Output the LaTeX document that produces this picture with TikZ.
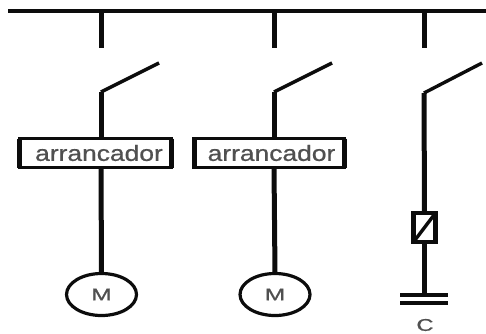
\documentclass[tikz,border=0pt]{standalone}
\usepackage{fontspec}
\setmainfont[RawFeature={embolden=0.7}]{Liberation Sans}
\usetikzlibrary{shapes.geometric}
\definecolor{ink}{HTML}{0C0C0C}
\definecolor{txt}{HTML}{505050}
\tikzset{
  x=1pt,y=-1pt,
  wire/.style={draw=ink,line width=5pt},
  thin wire/.style={draw=ink,line width=3.4pt},
  bus/.style={draw=ink,line width=3.6pt},
  starter/.style={draw=ink,line width=3.4pt,minimum height=29pt,inner sep=0pt,outer sep=0pt,fill=white,text=txt,font=\fontsize{22}{22}\selectfont},
  sidebar/.style={draw=ink,line width=5pt},
  motor/.style={ellipse,draw=ink,line width=3.2pt,minimum width=70pt,minimum height=42pt,inner sep=0pt,outer sep=0pt,fill=white,text=txt,font=\fontsize{17}{17}\selectfont},
  coil/.style={rectangle,draw=ink,line width=4.5pt,minimum width=22pt,minimum height=29pt,inner sep=0pt,outer sep=0pt,fill=white},
  plate/.style={draw=ink,line width=4pt},
  label/.style={text=txt,font=\fontsize{17}{17}\selectfont,inner sep=0pt}
}
\begin{document}
\begin{tikzpicture}
\useasboundingbox (0,0) rectangle (486,333);
% bus
\coordinate (busL) at (8,11);
\coordinate (busR) at (486,11);
\draw[bus] (busL) -- (busR);
% column 1
\coordinate (t1) at (101,11);
\coordinate (f1) at (101,48);
\coordinate (p1) at (101,92);
\coordinate (s1) at (159,63);
\node[starter,minimum width=152pt] (a1) at (95.5,153) {\hspace*{7pt}\scalebox{1.2}[1]{arrancador}};
\node[motor] (m1) at (101.5,294.5) {\scalebox{1.45}[1]{M}};
\draw[wire] (t1) -- (f1);
\draw[thin wire] (p1) -- (s1);
\draw[wire] (p1) -- (p1 |- a1.north);
\draw[wire] (a1.south -| p1) -- (m1.north);
\draw[sidebar] (a1.north west) -- (a1.south west);
\draw[sidebar] (a1.north east) -- (a1.south east);
% column 2
\coordinate (t2) at (274,11);
\coordinate (f2) at (274,48);
\coordinate (p2) at (274,92);
\coordinate (s2) at (332,63);
\node[starter,minimum width=150pt] (a2) at (269,153) {\hspace*{5pt}\scalebox{1.2}[1]{arrancador}};
\node[motor] (m2) at (275,294.5) {\scalebox{1.45}[1]{M}};
\draw[wire] (t2) -- (f2);
\draw[thin wire] (p2) -- (s2);
\draw[wire] (p2) -- (p2 |- a2.north);
\draw[wire] (a2.south -| p2) -- (m2.north);
\draw[sidebar] (a2.north west) -- (a2.south west);
\draw[sidebar] (a2.north east) -- (a2.south east);
% column 3
\coordinate (t3) at (424,11);
\coordinate (f3) at (424,48);
\coordinate (p3) at (424,93);
\coordinate (s3) at (482,63);
\node[coil] (k) at (424.5,227.5) {};
\coordinate (c1) at (424.5,295);
\coordinate (c1l) at (400,295);
\coordinate (c1r) at (448,295);
\coordinate (c2l) at (400,303);
\coordinate (c2r) at (448,303);
\node[label] (c) at (425,325) {\scalebox{1.4}[1]{C}};
\draw[wire] (t3) -- (f3);
\draw[thin wire] (p3) -- (s3);
\draw[wire] (p3) -- (k.north);
\draw[wire] (k.south) -- (c1);
\draw[thin wire] (k.south west) -- (k.north east);
\draw[plate] (c1l) -- (c1r);
\draw[plate] (c2l) -- (c2r);
\end{tikzpicture}
\end{document}
